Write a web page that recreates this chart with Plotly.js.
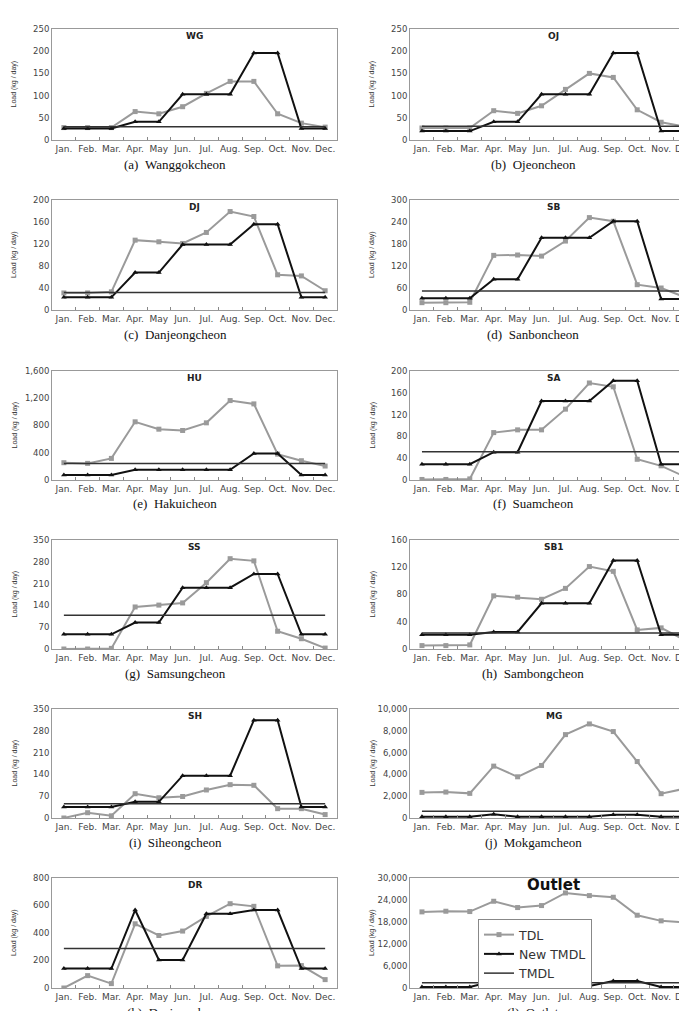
<!DOCTYPE html>
<html>
<head>
<meta charset="utf-8">
<script src="https://cdn.plot.ly/plotly-3.0.1.min.js"></script>
<style>
html,body{margin:0;padding:0;overflow:hidden;background:#fff;}
#chart{width:700px;height:1030px;}
</style>
</head>
<body>
<div id="chart"></div>
<script>
const months = ["Jan.","Feb.","Mar.","Apr.","May","Jun.","Jul.","Aug.","Sep.","Oct.","Nov.","Dec."];
const panelCodes = ["WG","OJ","DJ","SB","HU","SA","SS","SB1","SH","MG","DR","Outlet"];
const panelNames = ["(a)\u00a0\u00a0Wanggokcheon","(b)\u00a0\u00a0Ojeoncheon","(c)\u00a0\u00a0Danjeongcheon","(d)\u00a0\u00a0Sanboncheon",
  "(e)\u00a0\u00a0Hakuicheon","(f)\u00a0\u00a0Suamcheon","(g)\u00a0\u00a0Samsungcheon","(h)\u00a0\u00a0Sambongcheon",
  "(i)\u00a0\u00a0Siheongcheon","(j)\u00a0\u00a0Mokgamcheon","(k)\u00a0\u00a0Daejeoncheon","(l)\u00a0\u00a0Outlet"];
const seriesNames = ["TDL","New TMDL","TMDL"];
const yTitle = "Load (kg / day)";

// TDL (gray squares)
const tdlWG  = [28,28,28,64,59,75,105,132,132,59,38,29];
const tdlOJ  = [27,27,27,66,60,77,114,150,141,68,40,30];
const tdlDJ  = [31,31,33,127,124,121,141,179,170,64,62,35];
const tdlSB  = [20,20,21,149,150,147,188,252,242,69,60,35];
const tdlHU  = [254,244,317,854,746,727,839,1166,1117,380,283,205];
const tdlSA  = [1,1,2,87,92,92,130,178,171,38,26,6];
const tdlSS  = [0,0,2,135,141,148,213,290,283,57,33,3];
const tdlSB1 = [5,5,6,78,76,73,89,121,114,28,31,13];
const tdlSH  = [0,17,7,78,65,69,90,107,105,30,30,11];
const tdlMG  = [2350,2380,2260,4760,3780,4820,7650,8630,7930,5180,2230,2700];
const tdlDR  = [0,90,32,467,382,414,521,613,594,161,163,61];
const tdlOutlet = [20760,20940,20850,23660,21940,22480,25930,25200,24750,19850,18310,17860];

// New TMDL (black triangles)
const newWG  = [26,26,26,41,41,103,103,103,196,196,26,26];
const newOJ  = [20,20,20,41,41,103,103,103,196,196,20,20];
const newDJ  = [23,23,23,68,68,119,119,119,156,156,23,23];
const newSB  = [32,32,32,84,84,197,197,197,242,242,30,30];
const newHU  = [73,73,73,151,151,151,151,151,390,390,73,73];
const newSA  = [29,29,29,51,51,145,145,145,182,182,29,29];
const newSS  = [47,47,47,85,85,197,197,197,241,241,47,47];
const newSB1 = [21,21,21,25,25,67,67,67,130,130,21,21];
const newSH  = [35,35,35,52,52,136,136,136,314,314,35,35];
const newMG  = [120,120,120,335,120,120,120,120,300,300,120,120];
const newDR  = [141,141,141,567,204,204,540,540,567,567,141,141];
const newOutlet = [270,270,270,1900,270,270,540,540,1900,1900,270,270];

// TMDL (constant line)
const tmdlValues = [30,31,32,52,244,52,108,23.5,46,610,287,1450];

const yMax  = [250,250,200,300,1600,200,350,160,350,10000,800,30000];
const yStep = [50,50,40,60,400,40,70,40,70,2000,200,6000];

const tdlAll = [tdlWG,tdlOJ,tdlDJ,tdlSB,tdlHU,tdlSA,tdlSS,tdlSB1,tdlSH,tdlMG,tdlDR,tdlOutlet];
const newAll = [newWG,newOJ,newDJ,newSB,newHU,newSA,newSS,newSB1,newSH,newMG,newDR,newOutlet];

const W = 700, H = 1030;
const colX = [[52,337],[410,697]];
const rowY = [[29,140],[200,310],[371,480],[540,649],[709,818],[878,988]];
const yTitleX = [14,372];
const captionX = [175,533];

const traces = [];
const layout = {
  width: W, height: H,
  margin: {l:0,r:0,t:0,b:0},
  paper_bgcolor: "#fff", plot_bgcolor: "#fff",
  font: {family: "DejaVu Sans, Arial, sans-serif", size: 8, color: "#444"},
  showlegend: true,
  legend: {
    x: 478/W, y: 1-919/H, xanchor: "left", yanchor: "top",
    bordercolor: "#888", borderwidth: 1, bgcolor: "#fff",
    font: {family: "DejaVu Sans, Arial, sans-serif", size: 12.5, color: "#333"},
    itemwidth: 30, tracegroupgap: 0
  },
  annotations: [],
  hovermode: false
};

for (let i = 0; i < 12; i++) {
  const k = i + 1;
  const row = Math.floor(i/2), col = i % 2;
  const [x0,x1] = colX[col];
  const [t0,t1] = rowY[row];
  const xa = "xaxis" + (k === 1 ? "" : k);
  const ya = "yaxis" + (k === 1 ? "" : k);
  const xr = "x" + (k === 1 ? "" : k);
  const yr = "y" + (k === 1 ? "" : k);
  layout[xa] = {
    domain: [x0/W, x1/W], anchor: yr, type: "category",
    categoryorder: "array", categoryarray: months,
    range: [-0.5, 11.5], tickson: "boundaries",
    ticks: "inside", ticklen: 3, tickcolor: "#888",
    tickangle: 0, tickfont: {size: 9, color: "#444"},
    showline: true, linecolor: "#999", linewidth: 1, mirror: true,
    showgrid: false, zeroline: false, fixedrange: true
  };
  layout[ya] = {
    domain: [1 - t1/H, 1 - t0/H], anchor: xr,
    range: [0, yMax[i]], dtick: yStep[i], tick0: 0, tickformat: ",",
    ticks: "", tickfont: {size: 8.5, color: "#444"},
    showline: true, linecolor: "#999", linewidth: 1, mirror: true,
    showgrid: false, zeroline: false, fixedrange: true
  };
  const show = (i === 11);
  traces.push({
    x: months, y: tdlAll[i], xaxis: xr, yaxis: yr, name: seriesNames[0],
    type: "scatter", mode: "lines+markers", showlegend: show,
    line: {color: "#9a9a9a", width: 2},
    marker: {symbol: "square", size: 5, color: "#9a9a9a"}
  });
  traces.push({
    x: months, y: newAll[i], xaxis: xr, yaxis: yr, name: seriesNames[1],
    type: "scatter", mode: "lines+markers", showlegend: show,
    line: {color: "#111", width: 2},
    marker: {symbol: "triangle-up", size: 5, color: "#111"}
  });
  traces.push({
    x: [months[0], months[11]], y: [tmdlValues[i], tmdlValues[i]], xaxis: xr, yaxis: yr, name: seriesNames[2],
    type: "scatter", mode: "lines", showlegend: show,
    line: {color: "#333", width: 1.5}
  });
  const isOutlet = (i === 11);
  layout.annotations.push({
    xref: "paper", yref: "paper", x: (x0+x1)/2/W, y: 1 - (t0 + 7)/H,
    text: panelCodes[i], showarrow: false, xanchor: "center", yanchor: "middle",
    font: isOutlet ? {family: "DejaVu Sans, Arial", size: 15, color: "#111", weight: 600}
                   : {family: "DejaVu Sans, Arial", size: 9, color: "#222", weight: 600}
  });
  layout.annotations.push({
    xref: "paper", yref: "paper", x: yTitleX[col]/W, y: 1 - (t0+t1)/2/H,
    text: yTitle, showarrow: false, textangle: -90, xanchor: "center", yanchor: "middle",
    font: {family: "Liberation Sans, Arial", size: 7, color: "#333"}
  });
  layout.annotations.push({
    xref: "paper", yref: "paper", x: captionX[col]/W, y: 1 - (t1 + 24)/H,
    text: panelNames[i], showarrow: false, xanchor: "center", yanchor: "middle",
    font: {family: "Liberation Serif, Times New Roman, serif", size: 13, color: "#111"}
  });
}

Plotly.newPlot("chart", traces, layout, {displayModeBar: false, staticPlot: true});
</script>
</body>
</html>
